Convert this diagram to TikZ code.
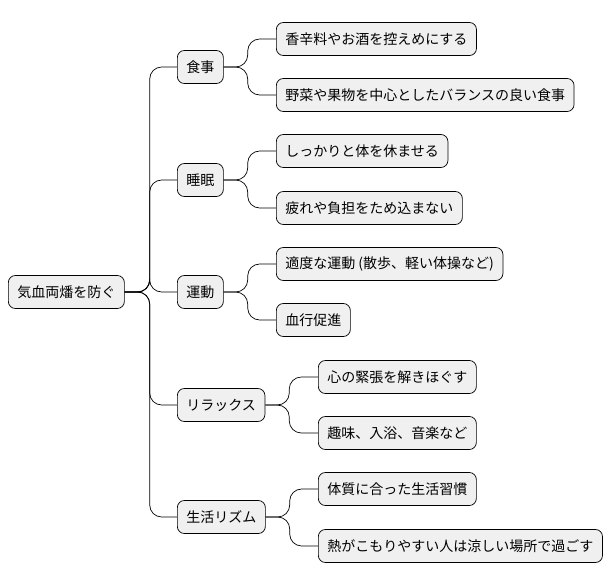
\documentclass[tikz,border=0pt]{standalone}
\usepackage{fontspec}
\setmainfont{Noto Sans CJK JP}
\begin{document}
\begin{tikzpicture}[x=1pt,y=-1pt,
  box/.style={draw=black,line width=0.7pt,fill=black!6,rounded corners=7pt,anchor=west,
    minimum height=33pt,inner xsep=9pt,font=\fontsize{14}{16}\selectfont},
  link/.style={draw=black,line width=0.7pt,rounded corners=12pt}]
\useasboundingbox (0,0) rectangle (614,583);
\node[box] (r) at (8,292) {気血両燔を防ぐ};
\node[box] (a) at (177,67) {食事};
\node[box] (b) at (177,180) {睡眠};
\node[box] (c) at (177,292) {運動};
\node[box] (d) at (177,405) {リラックス};
\node[box] (e) at (177,517) {生活リズム};
\node[box] (a1) at (276,39) {香辛料やお酒を控えめにする};
\node[box] (a2) at (276,95) {野菜や果物を中心としたバランスの良い食事};
\node[box] (b1) at (276,151) {しっかりと体を休ませる};
\node[box] (b2) at (276,208) {疲れや負担をため込まない};
\node[box] (c1) at (276,264) {適度な運動 (散歩、軽い体操など)};
\node[box] (c2) at (276,320) {血行促進};
\node[box] (d1) at (318,377) {心の緊張を解きほぐす};
\node[box] (d2) at (318,433) {趣味、入浴、音楽など};
\node[box] (e1) at (318,489) {体質に合った生活習慣};
\node[box] (e2) at (318,546) {熱がこもりやすい人は涼しい場所で過ごす};
\foreach \t in {a,b,c,d,e}{\draw[link] (r.east) -- ++(25,0) |- (\t.west);}
\foreach \p/\t in {a/a1,a/a2,b/b1,b/b2,c/c1,c/c2}{\draw[link] (\p.east) -- ++(24,0) |- (\t.west);}
\foreach \p/\t in {d/d1,d/d2,e/e1,e/e2}{\draw[link] (\p.east) -- ++(24,0) |- (\t.west);}
\end{tikzpicture}
\end{document}
